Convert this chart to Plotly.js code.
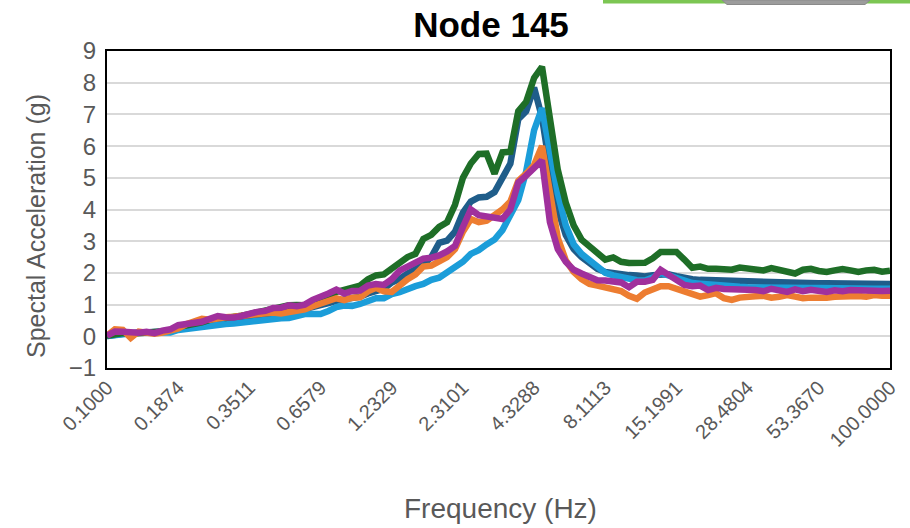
<!DOCTYPE html>
<html>
<head>
<meta charset="utf-8">
<script src="https://cdn.plot.ly/plotly-3.0.1.min.js"></script>
<style>
  html, body { margin: 0; padding: 0; background: #ffffff; }
  #chart { width: 910px; height: 528px; }
</style>
</head>
<body>
<div id="chart"></div>
<script>
// Frequency tick labels (Hz), one every 9th point of the 100-point log sweep
const tickLabels = ['0.1000', '0.1874', '0.3511', '0.6579', '1.2329', '2.3101',
                    '4.3288', '8.1113', '15.1991', '28.4804', '53.3670', '100.0000'];
const tickIndex = [0, 9, 18, 27, 36, 45, 54, 63, 72, 81, 90, 99];

// Spectral acceleration (g) for each response curve, 100 frequency points each
const seriesDarkGreen = [
  0.02, 0.08, 0.10, 0.08, 0.10, 0.12, 0.10, 0.15, 0.20, 0.30, 0.34, 0.38, 0.44, 0.52, 0.60, 0.58, 0.60, 0.65, 0.70, 0.75,
  0.80, 0.90, 0.95, 0.98, 0.99, 0.98, 1.05, 1.10, 1.20, 1.40, 1.45, 1.50, 1.60, 1.80, 1.92, 1.95, 2.15, 2.35, 2.50, 2.60,
  3.07, 3.20, 3.45, 3.60, 4.15, 5.00, 5.45, 5.75, 5.76, 5.13, 5.80, 5.82, 7.10, 7.40, 8.15, 8.50, 6.90, 5.25, 4.22, 3.50,
  3.05, 2.86, 2.64, 2.42, 2.49, 2.35, 2.31, 2.31, 2.32, 2.46, 2.66, 2.66, 2.66, 2.42, 2.16, 2.20, 2.13, 2.13, 2.10, 2.10,
  2.17, 2.13, 2.14, 2.08, 2.15, 2.08, 2.06, 1.98, 2.10, 2.13, 2.06, 2.03, 2.08, 2.12, 2.08, 2.03, 2.08, 2.10, 2.04, 2.07
];
const seriesDarkBlue = [
  0.01, 0.06, 0.08, 0.10, 0.12, 0.13, 0.12, 0.14, 0.17, 0.25, 0.28, 0.32, 0.38, 0.44, 0.50, 0.50, 0.52, 0.56, 0.60, 0.64,
  0.68, 0.75, 0.74, 0.78, 0.80, 0.85, 0.92, 1.00, 1.05, 1.12, 1.15, 1.20, 1.25, 1.35, 1.45, 1.50, 1.70, 1.81, 1.98, 2.10,
  2.25, 2.50, 2.95, 3.02, 3.30, 3.90, 4.25, 4.38, 4.40, 4.55, 5.05, 5.45, 6.85, 7.10, 7.85, 6.90, 5.30, 4.00, 3.20, 2.75,
  2.50, 2.30, 2.13, 2.03, 1.98, 1.95, 1.93, 1.92, 1.89, 1.93, 1.96, 1.96, 1.90, 1.84, 1.80, 1.78, 1.77, 1.76, 1.75, 1.74,
  1.72, 1.71, 1.70, 1.70, 1.70, 1.69, 1.69, 1.68, 1.68, 1.68, 1.67, 1.67, 1.67, 1.66, 1.66, 1.66, 1.66, 1.65, 1.65, 1.65
];
const seriesLightBlue = [
  0.01, 0.05, 0.07, 0.10, 0.12, 0.13, 0.13, 0.12, 0.12, 0.20, 0.24, 0.28, 0.31, 0.36, 0.39, 0.39, 0.40, 0.43, 0.46, 0.48,
  0.54, 0.58, 0.57, 0.58, 0.65, 0.70, 0.70, 0.70, 0.80, 0.92, 0.97, 0.96, 1.02, 1.12, 1.20, 1.20, 1.33, 1.39, 1.50, 1.58,
  1.65, 1.78, 1.85, 2.00, 2.15, 2.35, 2.60, 2.72, 2.90, 3.05, 3.35, 3.85, 4.30, 5.20, 6.50, 7.20, 5.80, 4.50, 3.50, 2.90,
  2.60, 2.40, 2.15, 2.00, 1.92, 1.86, 1.80, 1.77, 1.76, 1.85, 2.00, 1.92, 1.80, 1.72, 1.68, 1.66, 1.63, 1.60, 1.58, 1.57,
  1.56, 1.55, 1.54, 1.54, 1.53, 1.53, 1.53, 1.52, 1.52, 1.52, 1.52, 1.51, 1.51, 1.51, 1.51, 1.50, 1.50, 1.50, 1.50, 1.50
];
const seriesOrange = [
  0.02, 0.22, 0.20, -0.05, 0.15, 0.13, 0.08, 0.12, 0.17, 0.25, 0.38, 0.47, 0.55, 0.52, 0.58, 0.60, 0.62, 0.65, 0.70, 0.74,
  0.75, 0.75, 0.72, 0.75, 0.80, 0.85, 0.95, 1.02, 1.12, 1.20, 1.14, 1.22, 1.23, 1.42, 1.53, 1.42, 1.40, 1.62, 1.80, 1.95,
  2.20, 2.23, 2.38, 2.50, 2.75, 3.30, 3.70, 3.60, 3.65, 3.80, 4.00, 4.25, 4.90, 5.13, 5.40, 6.00, 4.60, 3.10, 2.40, 2.03,
  1.80, 1.65, 1.60, 1.55, 1.46, 1.43, 1.28, 1.18, 1.38, 1.50, 1.58, 1.58, 1.50, 1.43, 1.35, 1.25, 1.30, 1.36, 1.20, 1.15,
  1.22, 1.22, 1.26, 1.28, 1.22, 1.25, 1.30, 1.25, 1.20, 1.22, 1.20, 1.22, 1.25, 1.27, 1.25, 1.27, 1.25, 1.30, 1.28, 1.28
];
const seriesPurple = [
  0.02, 0.15, 0.14, 0.12, 0.11, 0.14, 0.10, 0.18, 0.22, 0.35, 0.37, 0.40, 0.46, 0.55, 0.64, 0.60, 0.59, 0.64, 0.72, 0.77,
  0.80, 0.89, 0.90, 0.98, 0.95, 1.00, 1.15, 1.23, 1.35, 1.47, 1.35, 1.43, 1.44, 1.60, 1.65, 1.62, 1.80, 2.07, 2.20, 2.28,
  2.45, 2.48, 2.55, 2.68, 2.85, 3.45, 4.00, 3.82, 3.78, 3.76, 3.70, 4.00, 4.85, 5.07, 5.30, 5.55, 3.60, 2.75, 2.35, 2.10,
  1.98, 1.85, 1.77, 1.76, 1.75, 1.70, 1.55, 1.72, 1.72, 1.78, 2.10, 1.94, 1.83, 1.62, 1.58, 1.60, 1.46, 1.53, 1.49, 1.49,
  1.47, 1.46, 1.46, 1.42, 1.50, 1.45, 1.40, 1.48, 1.42, 1.47, 1.45, 1.40, 1.45, 1.42, 1.46, 1.44, 1.45, 1.45, 1.43, 1.44
];

// Plot geometry (pixels) used for annotation placement and the strip along the top edge
const W = 910, H = 528;
const margin = { l: 107, r: 20, t: 51, b: 160 };
const plotW = W - margin.l - margin.r;
const plotH = H - margin.t - margin.b;
const px = x => (x - margin.l) / plotW;
const py = y => (H - margin.b - y) / plotH;

function curve(values, color) {
  return {
    y: values,
    x0: 0,
    dx: 1,
    type: 'scatter',
    mode: 'lines',
    line: { color: color, width: 6.5, shape: 'linear' },
    hoverinfo: 'y',
    showlegend: false
  };
}

const data = [
  curve(seriesDarkBlue, '#1F5D8A'),
  curve(seriesLightBlue, '#1B9DD9'),
  curve(seriesDarkGreen, '#1E6E27'),
  curve(seriesOrange, '#ED7D31'),
  curve(seriesPurple, '#A0309C')
];

const greyText = '#595959';
const font = 'Liberation Sans, Arial, sans-serif';

const layout = {
  width: W,
  height: H,
  margin: margin,
  paper_bgcolor: '#ffffff',
  plot_bgcolor: '#ffffff',
  font: { family: font, color: greyText },
  title: {
    text: 'Node 145',
    font: { family: font, size: 35, color: '#000000', weight: 'bold' },
    xref: 'container',
    yref: 'container',
    x: 491 / W,
    y: 1 - 25 / H,
    xanchor: 'center',
    yanchor: 'middle'
  },
  xaxis: {
    type: 'linear',
    range: [0, 99],
    tickmode: 'array',
    tickvals: tickIndex,
    ticktext: tickLabels,
    tickangle: -45,
    tickfont: { family: font, size: 20, color: greyText },
    ticks: '',
    ticklabelstandoff: -2,
    showgrid: false,
    zeroline: false,
    showline: true,
    mirror: true,
    linecolor: '#000000',
    linewidth: 2,
    fixedrange: true
  },
  yaxis: {
    range: [-1, 9],
    tickmode: 'linear',
    tick0: -1,
    dtick: 1,
    tickfont: { family: font, size: 24, color: greyText },
    ticks: '',
    ticklabelstandoff: 4,
    showgrid: true,
    gridcolor: '#D9D9D9',
    gridwidth: 2,
    zeroline: false,
    showline: true,
    mirror: true,
    linecolor: '#000000',
    linewidth: 2,
    fixedrange: true
  },
  annotations: [
    {
      text: 'Frequency (Hz)',
      xref: 'paper', yref: 'paper',
      x: px(501), y: py(508),
      xanchor: 'center', yanchor: 'middle',
      showarrow: false,
      font: { family: font, size: 28, color: greyText }
    },
    {
      text: 'Spectal Acceleration (g)',
      xref: 'paper', yref: 'paper',
      x: px(36), y: py(226),
      xanchor: 'center', yanchor: 'middle',
      textangle: -90,
      showarrow: false,
      font: { family: font, size: 25, color: greyText }
    }
  ],
  shapes: [
    {
      type: 'rect', xref: 'paper', yref: 'paper', layer: 'above',
      x0: px(603), x1: px(910), y0: py(3.5), y1: py(0),
      fillcolor: '#7CC653', line: { width: 0 }
    },
    {
      type: 'path', xref: 'paper', yref: 'paper', layer: 'above',
      path: 'M ' + px(722) + ' ' + py(0) + ' L ' + px(870) + ' ' + py(0) +
            ' L ' + px(865) + ' ' + py(4.5) + ' L ' + px(727) + ' ' + py(4.5) + ' Z',
      fillcolor: '#9C9C9C', line: { color: '#8A8A8A', width: 1 }
    }
  ]
};

Plotly.newPlot('chart', data, layout, { displayModeBar: false, staticPlot: true });
</script>
</body>
</html>
